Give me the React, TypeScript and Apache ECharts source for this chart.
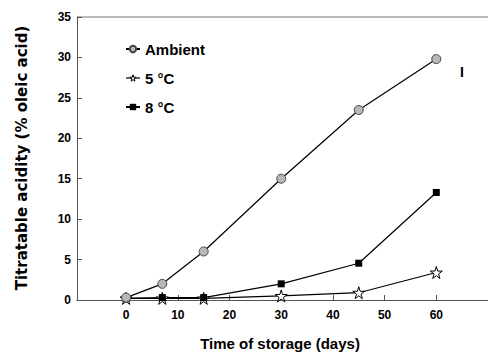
import React, { useEffect, useRef } from "react";
import * as echarts from "echarts";

const days = [0, 7, 15, 30, 45, 60];
const ambient = [0.3, 2, 6, 15, 23.5, 29.8];
const fiveC = [0.2, 0.2, 0.2, 0.5, 0.9, 3.4];
const eightC = [0.2, 0.3, 0.3, 2.0, 4.55, 13.3];
const xTicks = [0, 10, 20, 30, 40, 50, 60];
const seriesNames = ["Ambient", "5 °C", "8 °C"];

const pair = (ys: number[]) => days.map((d, i) => [d, ys[i]]);

export default function App() {
  const ref = useRef<HTMLDivElement>(null);
  useEffect(() => {
    const chart = echarts.init(ref.current!, null, { renderer: "svg" });
    const font = { fontFamily: "Liberation Sans, Arial, sans-serif", fontWeight: "bold" as const, color: "#000" };
    chart.setOption({
      animation: false,
      grid: { left: 77, top: 17, width: 412.5, height: 286.3, containLabel: false },
      legend: {
        orient: "vertical",
        left: 120,
        top: 36,
        itemGap: 13,
        itemWidth: 14,
        itemHeight: 8,
        textStyle: { ...font, fontSize: 15, lineHeight: 16 },
        data: [
          { name: seriesNames[0] },
          {
            name: seriesNames[1],
            itemStyle: { color: "#fff", borderColor: "#000", borderWidth: 1 },
            lineStyle: { color: "#000", width: 1.2 },
          },
          { name: seriesNames[2] },
        ],
      },
      xAxis: {
        type: "value",
        min: -9.5,
        max: 70,
        name: "Time of storage (days)",
        nameLocation: "middle",
        nameGap: 36,
        nameTextStyle: { ...font, fontSize: 15, padding: [0, 0, 0, -5] },
        splitLine: { show: false },
        axisLine: { show: true, onZero: false, lineStyle: { color: "#555", width: 1 } },
        axisTick: { show: true, inside: true, length: 5, customValues: xTicks, lineStyle: { color: "#555" } },
        axisLabel: { ...font, fontSize: 12, margin: 9, customValues: xTicks },
      },
      yAxis: {
        type: "value",
        min: 0,
        max: 35,
        interval: 5,
        splitLine: { show: false },
        axisLine: { show: true, onZero: false, lineStyle: { color: "#555", width: 1 } },
        axisTick: { show: true, inside: true, length: 5, lineStyle: { color: "#555" } },
        axisLabel: { ...font, fontSize: 12, margin: 6 },
      },
      graphic: [
        { type: "line", shape: { x1: 77, y1: 17, x2: 488, y2: 17 }, style: { stroke: "#777", lineWidth: 1 } },
        {
          type: "text",
          x: 22,
          y: 158,
          rotation: Math.PI / 2,
          style: {
            text: "Titratable acidity (% oleic acid)",
            font: "bold 15px DejaVu Sans, sans-serif",
            fill: "#000",
            align: "center",
            verticalAlign: "middle",
          },
        },
        { type: "text", left: 460, top: 65, style: { text: "I", font: "bold 14px Liberation Sans, Arial, sans-serif", fill: "#000" } },
      ],
      series: [
        {
          name: seriesNames[0],
          type: "line",
          data: pair(ambient),
          symbol: "circle",
          symbolSize: 9,
          z: 3,
          lineStyle: { color: "#000", width: 1.2 },
          itemStyle: { color: "#b8b8b8", borderColor: "#444", borderWidth: 1 },
        },
        {
          name: seriesNames[1],
          type: "line",
          data: pair(fiveC),
          symbol: "path://M50,0 L61,35 L98,35 L68,57 L79,92 L50,70 L21,92 L32,57 L2,35 L39,35 Z",
          symbolSize: 12,
          z: 2,
          lineStyle: { color: "#000", width: 1.2 },
          itemStyle: { color: "#fff", borderColor: "#000", borderWidth: 1 },
        },
        {
          name: seriesNames[2],
          type: "line",
          data: pair(eightC),
          symbol: "rect",
          symbolSize: 7,
          z: 2,
          lineStyle: { color: "#000", width: 1.2 },
          itemStyle: { color: "#000" },
        },
      ],
    });
    return () => chart.dispose();
  }, []);
  return <div ref={ref} style={{ width: 488, height: 356, position: "absolute", left: 0, top: 0 }} />;
}
